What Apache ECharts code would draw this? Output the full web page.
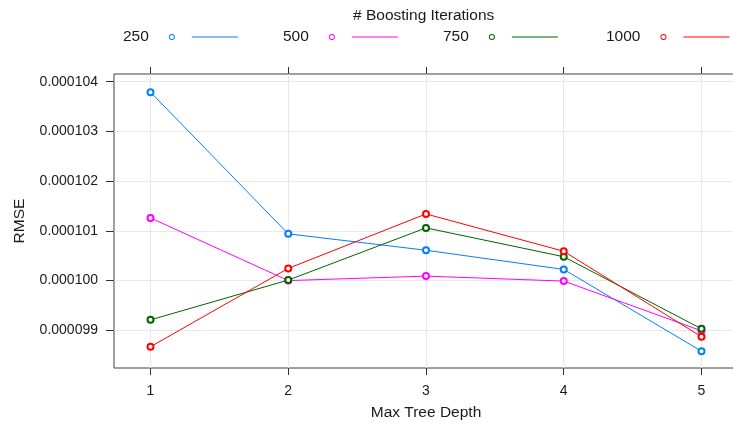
<!DOCTYPE html>
<html>
<head>
<meta charset="utf-8">
<script src="https://cdn.jsdelivr.net/npm/echarts@6/dist/echarts.min.js"></script>
<style>
  html, body { margin: 0; padding: 0; background: #ffffff; }
  #chart { width: 733px; height: 428px; }
</style>
</head>
<body>
<div id="chart"></div>
<script>
// Tuning results: cross-validated RMSE by max tree depth and number of boosting iterations
const depths = [1, 2, 3, 4, 5];
const iterations = ['250', '500', '750', '1000'];
const rmse250  = [0.00010379, 0.00010094, 0.00010061, 0.000100225, 0.00009858];
const rmse500  = [0.00010126, 0.00010000, 0.00010009, 0.00009999, 0.00009899];
const rmse750  = [0.00009921, 0.00010001, 0.00010106, 0.00010048, 0.00009903];
const rmse1000 = [0.00009867, 0.000100245, 0.00010134, 0.00010059, 0.00009887];
const yTicks = [0.000099, 0.000100, 0.000101, 0.000102, 0.000103, 0.000104];

const rmseBySeries = [rmse250, rmse500, rmse750, rmse1000];
const colors = ['#0080ff', '#ff00ff', '#006400', '#ff0000'];
const legendLeft = [123, 283, 443, 606];

const FONT = '"Liberation Sans", Arial, sans-serif';
const TEXT = '#1a1a1a';
const X_MIN = 0.735, X_MAX = 5.265;
const Y_MIN = 0.000098242, Y_MAX = 0.000104155;

// legend key: hollow circle, gap, then a short line segment
const KEY_ICON = 'path://M0,3A3,3 0 1,0 6,3A3,3 0 1,0 0,3Z' +
  'M0.9,3A2.1,2.1 0 1,1 5.1,3A2.1,2.1 0 1,1 0.9,3Z' +
  'M23,2.5L69,2.5L69,3.5L23,3.5Z';

const chart = echarts.init(document.getElementById('chart'), null, { renderer: 'canvas' });

const option = {
  animation: false,
  backgroundColor: '#ffffff',
  textStyle: { fontFamily: FONT, color: TEXT },
  title: {
    text: '# Boosting Iterations',
    left: 353,
    top: 7,
    padding: 0,
    textStyle: { fontFamily: FONT, fontSize: 15.5, fontWeight: 'normal', color: TEXT, lineHeight: 18 }
  },
  legend: iterations.map((name, i) => ({
    data: [name],
    left: legendLeft[i],
    top: 28,
    padding: 0,
    align: 'right',
    itemWidth: 69,
    itemHeight: 6,
    itemGap: 0,
    icon: KEY_ICON,
    selectedMode: false,
    itemStyle: { color: colors[i], borderWidth: 0 },
    textStyle: { fontFamily: FONT, fontSize: 15.5, color: TEXT, lineHeight: 18, padding: [0, 15, 0, 0] }
  })),
  grid: {
    left: 114,
    top: 74,
    width: 624,
    height: 294,
    show: true,
    borderColor: '#404040',
    borderWidth: 1,
    backgroundColor: 'transparent',
    containLabel: false,
    outerBoundsMode: 'none'
  },
  xAxis: [
    {
      type: 'value',
      min: X_MIN,
      max: X_MAX,
      name: 'Max Tree Depth',
      nameLocation: 'middle',
      nameGap: 37,
      nameTextStyle: { fontFamily: FONT, fontSize: 15.5, color: TEXT },
      axisLine: { show: false },
      axisTick: { show: true, length: 7, customValues: depths, lineStyle: { color: '#333333', width: 1 } },
      axisLabel: { show: true, customValues: depths, margin: 16, fontFamily: FONT, fontSize: 14, color: TEXT,
                   formatter: v => String(v) },
      splitLine: { show: true, lineStyle: { color: '#e8e8e8', width: 1 } }
    },
    {
      type: 'value',
      position: 'top',
      min: X_MIN,
      max: X_MAX,
      axisLine: { show: false },
      axisTick: { show: true, length: 7, customValues: depths, lineStyle: { color: '#333333', width: 1 } },
      axisLabel: { show: false },
      splitLine: { show: false }
    }
  ],
  yAxis: {
    type: 'value',
    min: Y_MIN,
    max: Y_MAX,
    name: 'RMSE',
    nameLocation: 'middle',
    nameGap: 86,
    nameTextStyle: { fontFamily: FONT, fontSize: 15.5, color: TEXT },
    axisLine: { show: false },
    axisTick: { show: true, length: 8, customValues: yTicks, lineStyle: { color: '#333333', width: 1 } },
    axisLabel: { show: true, customValues: yTicks, margin: 16, fontFamily: FONT, fontSize: 14, color: TEXT,
                 formatter: v => v.toFixed(6) },
    splitLine: { show: true, lineStyle: { color: '#e8e8e8', width: 1 } }
  },
  series: iterations.map((name, i) => ({
    name: name,
    type: 'line',
    xAxisIndex: 0,
    yAxisIndex: 0,
    data: depths.map((d, j) => [d, rmseBySeries[i][j]]),
    symbol: 'emptyCircle',
    symbolSize: 6,
    z: 2 + i,
    lineStyle: { color: colors[i], width: 1 },
    itemStyle: { color: colors[i], borderColor: colors[i], borderWidth: 0.8 },
    emphasis: { disabled: true }
  }))
};

chart.setOption(option);
</script>
</body>
</html>
